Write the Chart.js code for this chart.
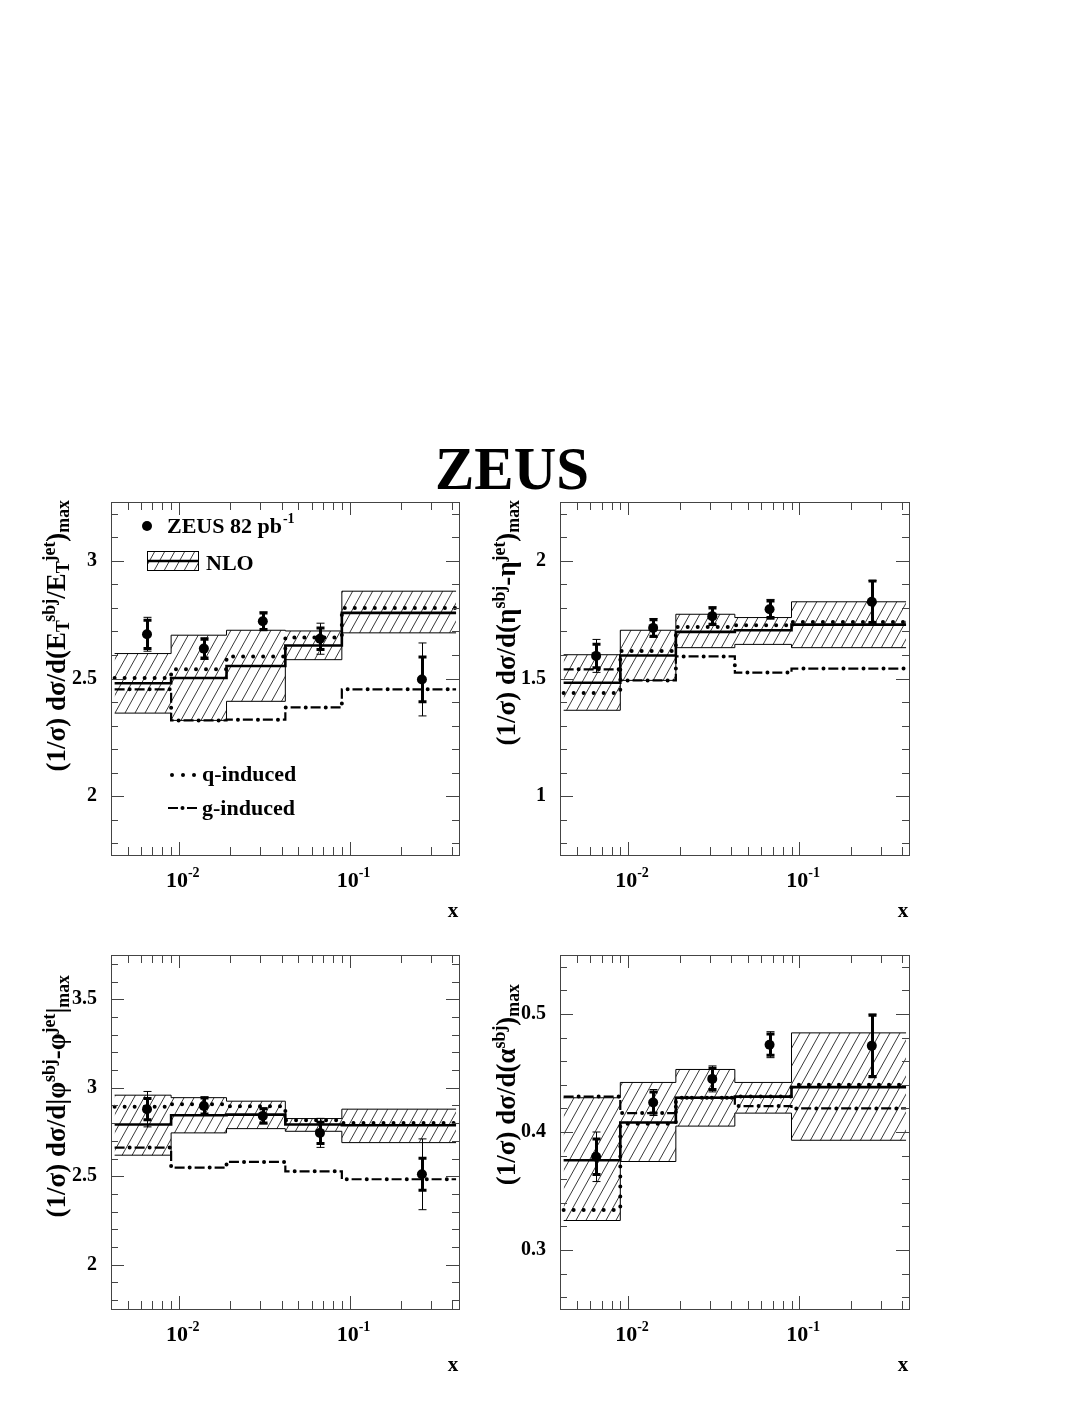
<!DOCTYPE html>
<html>
<head>
<meta charset="utf-8">
<script src="https://cdn.jsdelivr.net/npm/chart.js@4.4.1/dist/chart.umd.min.js"></script>
<style>
    body {
        margin: 0;
        background: #fff;
        width: 1090px;
        height: 1410px;
        position: relative;
        overflow: hidden;
        font-family: "Liberation Serif", "Times New Roman", serif;
    }
    canvas { position: absolute; }
    .title {
        position: absolute;
        left: 412px; width: 200px; top: 433px;
        text-align: center;
        font-weight: bold; font-size: 62px;
        transform: scaleX(0.95);
    }
    .ytitle {
        position: absolute;
        width: 340px;
        text-align: right;
        font-weight: bold; font-size: 27px; line-height: 28px;
        white-space: nowrap;
        transform: rotate(-90deg);
        transform-origin: left top;
    }
    .ytitle sup, .ytitle sub {
        font-size: 0.66em; line-height: 0;
        position: relative; vertical-align: baseline;
    }
    .ytitle sup { top: -0.55em; }
    .ytitle sub { top: 0.22em; }
</style>
</head>
<body>

<div class="title">ZEUS</div>

<canvas id="p1" width="480" height="470" style="left:0;top:470px"></canvas>
<canvas id="p2" width="480" height="470" style="left:480px;top:470px"></canvas>
<canvas id="p3" width="480" height="470" style="left:0;top:925px"></canvas>
<canvas id="p4" width="480" height="470" style="left:480px;top:925px"></canvas>

<div class="ytitle" style="left:42px;top:840px">(1/σ) dσ/d(E<sub>T</sub><sup>sbj</sup>/E<sub>T</sub><sup>jet</sup>)<sub>max</sub></div>
<div class="ytitle" style="left:492px;top:840px">(1/σ) dσ/d(η<sup>sbj</sup>-η<sup>jet</sup>)<sub>max</sub></div>
<div class="ytitle" style="left:42px;top:1315px">(1/σ) dσ/d|φ<sup>sbj</sup>-φ<sup>jet</sup>|<sub>max</sub></div>
<div class="ytitle" style="left:492px;top:1324px">(1/σ) dσ/d(α<sup>sbj</sup>)<sub>max</sub></div>

<script>
// ── Data ─────────────────────────────────────────────────────────────────────

// x binning shared by all four panels
const binEdges = [0.0042, 0.009, 0.019, 0.042, 0.09, 0.42];
const xPoints  = [0.0065, 0.014, 0.031, 0.067, 0.265];
const xRange   = [0.004, 0.437];
const xLabelValues = [0.01, 0.1];
const xLabelExps   = ["-2", "-1"];

// Panel 1: (E_T^sbj / E_T^jet)_max
const etData   = [2.688, 2.627, 2.743, 2.669, 2.496];
const etStat   = [0.060, 0.040, 0.035, 0.046, 0.095];
const etTot    = [0.072, 0.046, 0.040, 0.066, 0.155];
const etNloUp  = [2.606, 2.684, 2.705, 2.702, 2.871];
const etNloLo  = [2.353, 2.322, 2.403, 2.580, 2.694];
const etNlo    = [2.480, 2.502, 2.553, 2.640, 2.779];
const etQ      = [2.502, 2.539, 2.594, 2.674, 2.800];
const etG      = [2.454, 2.322, 2.325, 2.377, 2.454];
const etYTicks = [2, 2.5, 3];

// Panel 2: (eta^sbj - eta^jet)_max
const etaData   = [1.596, 1.715, 1.765, 1.794, 1.826];
const etaStat   = [0.050, 0.035, 0.035, 0.035, 0.088];
const etaTot    = [0.070, 0.040, 0.040, 0.042, 0.090];
const etaNloUp  = [1.601, 1.705, 1.773, 1.759, 1.826];
const etaNloLo  = [1.365, 1.492, 1.631, 1.645, 1.631];
const etaNlo    = [1.482, 1.598, 1.698, 1.705, 1.729];
const etaQ      = [1.438, 1.617, 1.719, 1.726, 1.740];
const etaG      = [1.539, 1.492, 1.594, 1.525, 1.542];
const etaYTicks = [1, 1.5, 2];

// Panel 3: |phi^sbj - phi^jet|_max
const phiData   = [2.879, 2.897, 2.841, 2.745, 2.511];
const phiStat   = [0.060, 0.045, 0.040, 0.060, 0.090];
const phiTot    = [0.100, 0.052, 0.045, 0.082, 0.200];
const phiNloUp  = [2.958, 2.944, 2.924, 2.826, 2.879];
const phiNloLo  = [2.619, 2.745, 2.769, 2.754, 2.690];
const phiNlo    = [2.792, 2.845, 2.848, 2.792, 2.788];
const phiQ      = [2.892, 2.907, 2.895, 2.816, 2.801];
const phiG      = [2.662, 2.549, 2.581, 2.528, 2.483];
const phiYTicks = [2, 2.5, 3, 3.5];

// Panel 4: (alpha^sbj)_max
const alData   = [0.379, 0.425, 0.445, 0.474, 0.473];
const alStat   = [0.015, 0.009, 0.009, 0.009, 0.026];
const alTot    = [0.021, 0.011, 0.011, 0.011, 0.027];
const alNloUp  = [0.429, 0.442, 0.453, 0.442, 0.484];
const alNloLo  = [0.325, 0.375, 0.405, 0.416, 0.393];
const alNlo    = [0.376, 0.408, 0.429, 0.430, 0.438];
const alQ      = [0.334, 0.407, 0.429, 0.430, 0.440];
const alG      = [0.430, 0.416, 0.429, 0.422, 0.420];
const alYTicks = [0.3, 0.4, 0.5];

// ── Helpers ──────────────────────────────────────────────────────────────────

const FONT = '"Liberation Serif", "Times New Roman", serif';
const INK  = "#000";
const AXIS = "#444";

// histogram values -> one point per left bin edge plus a closing point.
// Chart.js "before" stepping runs horizontally at the previous point's y.
function steps(vals) {
    const pts = vals.map((v, i) => ({ x: binEdges[i], y: v }));
    pts.push({ x: binEdges[binEdges.length - 1], y: vals[vals.length - 1] });
    return pts;
}

// diagonal "/" hatching used for the NLO uncertainty band
function hatchPattern(ctx) {
    const c = document.createElement("canvas");
    c.width = 10; c.height = 18;
    const g = c.getContext("2d");
    g.strokeStyle = "#222";
    g.lineWidth = 0.9;
    g.beginPath();
    for (const dx of [-10, 0, 10]) { g.moveTo(dx, 18); g.lineTo(dx + 10, 0); }
    g.stroke();
    return ctx.createPattern(c, "repeat");
}

// ── Frame / ticks / error bars / labels plugin ───────────────────────────────

const framePlugin = {
    id: "frame",
    afterDatasetsDraw(chart, args, o) {
        const { ctx, chartArea: a, scales: { x, y } } = chart;
        ctx.save();

        // error bars: thin = total (with caps), thick = statistical
        o.points.forEach((v, i) => {
            const px = Math.round(x.getPixelForValue(xPoints[i])) + 0.5;
            const bar = (err, w) => {
                const y1 = y.getPixelForValue(v + err), y2 = y.getPixelForValue(v - err);
                ctx.lineWidth = w;
                ctx.beginPath();
                ctx.moveTo(px, y1); ctx.lineTo(px, y2);
                ctx.moveTo(px - 4, y1); ctx.lineTo(px + 4, y1);
                ctx.moveTo(px - 4, y2); ctx.lineTo(px + 4, y2);
                ctx.stroke();
            };
            ctx.strokeStyle = INK;
            bar(o.tot[i], 1);
            bar(o.stat[i], 3);
        });

        // frame
        ctx.strokeStyle = AXIS;
        ctx.lineWidth = 1;
        ctx.strokeRect(Math.round(a.left) + 0.5, Math.round(a.top) + 0.5,
                       Math.round(a.width), Math.round(a.height));

        // y ticks, both sides, pointing inwards
        ctx.beginPath();
        const n0 = Math.ceil(y.min / o.yStep - 1e-6), n1 = Math.floor(y.max / o.yStep + 1e-6);
        for (let k = n0; k <= n1; k++) {
            const v = k * o.yStep;
            const r = v / o.yMajor;
            const len = Math.abs(r - Math.round(r)) < 1e-6 ? 13 : 7;
            const py = Math.round(y.getPixelForValue(v)) + 0.5;
            ctx.moveTo(a.left, py);  ctx.lineTo(a.left + len, py);
            ctx.moveTo(a.right, py); ctx.lineTo(a.right - len, py);
        }
        // x ticks (log), top and bottom
        for (let d = -3; d <= 0; d++) {
            for (let m = 1; m <= 9; m++) {
                const v = m * Math.pow(10, d);
                if (v < x.min * 1.0001 || v > x.max) continue;
                const len = m === 1 ? 13 : 8;
                const px = Math.round(x.getPixelForValue(v)) + 0.5;
                ctx.moveTo(px, a.bottom); ctx.lineTo(px, a.bottom - len);
                ctx.moveTo(px, a.top);    ctx.lineTo(px, a.top + len);
            }
        }
        ctx.stroke();

        // tick labels
        ctx.fillStyle = INK;
        ctx.font = `bold 20px ${FONT}`;
        ctx.textAlign = "right";
        ctx.textBaseline = "middle";
        o.yTicks.forEach(v => ctx.fillText(String(v), a.left - 14, y.getPixelForValue(v)));

        ctx.textBaseline = "alphabetic";
        xLabelValues.forEach((v, i) => {
            const px = x.getPixelForValue(v);
            ctx.font = `bold 22px ${FONT}`;
            ctx.textAlign = "center";
            ctx.fillText("10", px - 2, a.bottom + 32);
            const w = ctx.measureText("10").width;
            ctx.font = `bold 14px ${FONT}`;
            ctx.textAlign = "left";
            ctx.fillText(xLabelExps[i], px - 2 + w / 2, a.bottom + 22);
        });
        ctx.font = `bold 21px ${FONT}`;
        ctx.textAlign = "center";
        ctx.fillText("x", a.right - 6, a.bottom + 62);

        if (o.legend) drawLegend(ctx, a, o.pattern);
        ctx.restore();
    },
};

// legend lives inside the first panel only
function drawLegend(ctx, a, pattern) {
    const L = a.left, T = a.top;
    ctx.fillStyle = INK;
    ctx.strokeStyle = INK;

    ctx.beginPath();
    ctx.arc(L + 36, T + 24, 5, 0, Math.PI * 2);
    ctx.fill();
    ctx.font = `bold 22px ${FONT}`;
    ctx.textAlign = "left";
    ctx.fillText("ZEUS 82 pb", L + 56, T + 31);
    const w = ctx.measureText("ZEUS 82 pb").width;
    ctx.font = `bold 14px ${FONT}`;
    ctx.fillText("-1", L + 56 + w + 1, T + 21);

    ctx.fillStyle = pattern;
    ctx.fillRect(L + 36, T + 49, 51, 19);
    ctx.lineWidth = 1;
    ctx.strokeRect(L + 36.5, T + 49.5, 51, 19);
    ctx.lineWidth = 2.6;
    ctx.beginPath();
    ctx.moveTo(L + 36, T + 59); ctx.lineTo(L + 87, T + 59);
    ctx.stroke();
    ctx.fillStyle = INK;
    ctx.font = `bold 22px ${FONT}`;
    ctx.fillText("NLO", L + 95, T + 68);

    [61, 72, 83].forEach(dx => {
        ctx.beginPath(); ctx.arc(L + dx, T + 273, 2, 0, Math.PI * 2); ctx.fill();
    });
    ctx.fillText("q-induced", L + 91, T + 279);

    ctx.lineWidth = 2.2;
    ctx.beginPath();
    ctx.moveTo(L + 57, T + 306); ctx.lineTo(L + 67, T + 306);
    ctx.moveTo(L + 76, T + 306); ctx.lineTo(L + 86, T + 306);
    ctx.stroke();
    ctx.beginPath(); ctx.arc(L + 71.5, T + 306, 2, 0, Math.PI * 2); ctx.fill();
    ctx.fillText("g-induced", L + 91, T + 313);
}

// ── Panel builder ────────────────────────────────────────────────────────────

function makePanel(id, p) {
    const canvas = document.getElementById(id);
    const pattern = hatchPattern(canvas.getContext("2d"));
    const flat = { stepped: "before", pointRadius: 0, borderColor: INK, backgroundColor: "transparent" };

    new Chart(canvas, {
        type: "line",
        data: {
            datasets: [
                { ...flat, data: steps(p.up), fill: "+1", backgroundColor: pattern, borderWidth: 1, order: 6 },
                { ...flat, data: steps(p.lo), fill: false, borderWidth: 1, order: 5 },
                { ...flat, data: steps(p.nlo), fill: false, borderWidth: 2.6, order: 1 },
                { ...flat, data: steps(p.q), fill: false, borderWidth: 4,
                  borderDash: [0.01, 10], borderCapStyle: "round", order: 2 },
                { ...flat, data: steps(p.g), fill: false, borderWidth: 2.2,
                  borderDash: [10, 10], borderCapStyle: "butt", order: 3 },
                { ...flat, data: steps(p.g), fill: false, borderWidth: 4,
                  borderDash: [0.01, 20], borderDashOffset: 5, borderCapStyle: "round", order: 4 },
                { data: p.data.map((v, i) => ({ x: xPoints[i], y: v })), showLine: false,
                  pointRadius: 5, pointBackgroundColor: INK, pointBorderWidth: 0, order: 0 },
            ],
        },
        options: {
            responsive: false,
            animation: false,
            devicePixelRatio: 1,
            events: [],
            layout: { padding: p.pad },
            scales: {
                x: { type: "logarithmic", min: xRange[0], max: xRange[1], display: false },
                y: { type: "linear", min: p.yRange[0], max: p.yRange[1], display: false },
            },
            plugins: {
                legend:  { display: false },
                tooltip: { enabled: false },
                frame: {
                    points: p.data, stat: p.stat, tot: p.tot,
                    yTicks: p.yTicks, yStep: p.yStep, yMajor: p.yMajor,
                    legend: !!p.legend, pattern,
                },
            },
        },
        plugins: [framePlugin],
    });
}

// ── Build the four panels ────────────────────────────────────────────────────

makePanel("p1", {
    data: etData, stat: etStat, tot: etTot, up: etNloUp, lo: etNloLo, nlo: etNlo, q: etQ, g: etG,
    yRange: [1.75, 3.25], yTicks: etYTicks, yStep: 0.1, yMajor: 0.5, legend: true,
    pad: { left: 111, right: 21, top: 32, bottom: 85 },
});
makePanel("p2", {
    data: etaData, stat: etaStat, tot: etaTot, up: etaNloUp, lo: etaNloLo, nlo: etaNlo, q: etaQ, g: etaG,
    yRange: [0.75, 2.25], yTicks: etaYTicks, yStep: 0.1, yMajor: 0.5,
    pad: { left: 80, right: 51, top: 32, bottom: 85 },
});
makePanel("p3", {
    data: phiData, stat: phiStat, tot: phiTot, up: phiNloUp, lo: phiNloLo, nlo: phiNlo, q: phiQ, g: phiG,
    yRange: [1.75, 3.75], yTicks: phiYTicks, yStep: 0.1, yMajor: 0.5,
    pad: { left: 111, right: 21, top: 30, bottom: 86 },
});
makePanel("p4", {
    data: alData, stat: alStat, tot: alTot, up: alNloUp, lo: alNloLo, nlo: alNlo, q: alQ, g: alG,
    yRange: [0.25, 0.55], yTicks: alYTicks, yStep: 0.02, yMajor: 0.1,
    pad: { left: 80, right: 51, top: 30, bottom: 86 },
});
</script>
</body>
</html>
